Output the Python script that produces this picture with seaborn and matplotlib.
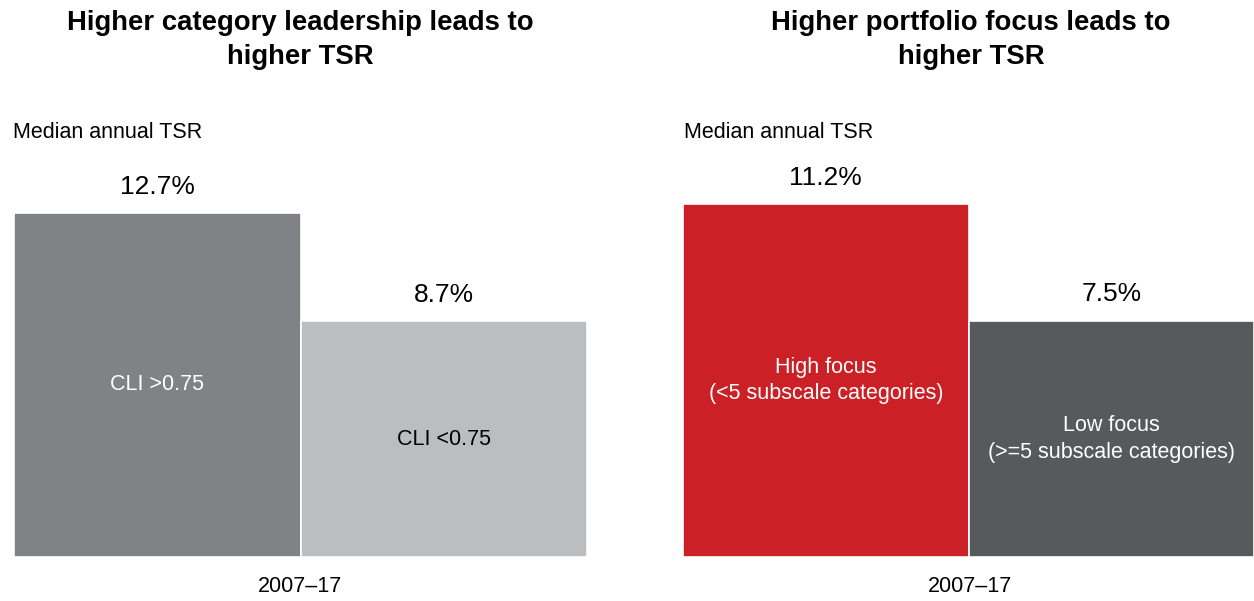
import matplotlib
matplotlib.use("Agg")
import matplotlib.pyplot as plt
import seaborn as sns
import pandas as pd

# ---- data ----
left_title = "Higher category leadership leads to\nhigher TSR"
right_title = "Higher portfolio focus leads to\nhigher TSR"
y_caption = "Median annual TSR"
period_label = "2007\u201317"

left_categories = ["CLI >0.75", "CLI <0.75"]
left_values = [12.7, 8.7]
left_colors = ["#808285", "#BCBDBF"]
left_text_colors = ["white", "black"]

right_categories = ["High focus\n(<5 subscale categories)", "Low focus\n(>=5 subscale categories)"]
right_values = [11.2, 7.5]
right_colors = ["#CC2027", "#58595B"]
right_text_colors = ["white", "white"]

sns.set_theme(style="white")
plt.rcParams["font.family"] = ["Liberation Sans", "DejaVu Sans"]
plt.rcParams["text.color"] = "black"

W, H = 1254, 601
fig = plt.figure(figsize=(W / 100, H / 100), dpi=100)


def px_axes(x0, x1, ybottom, ytop):
    return fig.add_axes([x0 / W, 1 - ybottom / H, (x1 - x0) / W, (ybottom - ytop) / H])


def panel(ax, cats, vals, colors, tcolors, ymax):
    df = pd.DataFrame({"cat": cats, "val": vals})
    sns.barplot(data=df, x="cat", y="val", hue="cat", order=cats, hue_order=cats,
                palette=colors, width=1.0, dodge=False, legend=False,
                edgecolor="white", linewidth=1.2, ax=ax, saturation=1)
    ax.set_xlim(-0.5, 1.5)
    ax.set_ylim(0, ymax)
    for i, (c, v, tc) in enumerate(zip(cats, vals, tcolors)):
        ax.text(i, v / 2, c, ha="center", va="center", color=tc, fontsize=15.5,
                linespacing=1.35)
        ax.annotate(f"{v:.1f}%", xy=(i, v), xytext=(0, 19), textcoords="offset points",
                    ha="center", va="center", fontsize=19, color="black")
    ax.set_axis_off()


axL = px_axes(14, 587, 557, 557 - 15 * 27.09)
panel(axL, left_categories, left_values, left_colors, left_text_colors, 15)

axR = px_axes(683, 1254, 557, 557 - 15 * 31.5)
panel(axR, right_categories, right_values, right_colors, right_text_colors, 15)

# titles
fig.text(300 / W, 1 - 40 / H, left_title, ha="center", va="center", fontsize=19.8,
         fontweight="bold", linespacing=1.4, color="black")
fig.text(971 / W, 1 - 40 / H, right_title, ha="center", va="center", fontsize=19.8,
         fontweight="bold", linespacing=1.4, color="black")

# captions
fig.text(13 / W, 1 - 132 / H, y_caption, ha="left", va="center", fontsize=15.5, color="black")
fig.text(684 / W, 1 - 132 / H, y_caption, ha="left", va="center", fontsize=15.5, color="black")

# period labels
fig.text(300 / W, 1 - 587 / H, period_label, ha="center", va="center", fontsize=15.5, color="black")
fig.text(970 / W, 1 - 587 / H, period_label, ha="center", va="center", fontsize=15.5, color="black")

fig.savefig("out.png", dpi=100)
